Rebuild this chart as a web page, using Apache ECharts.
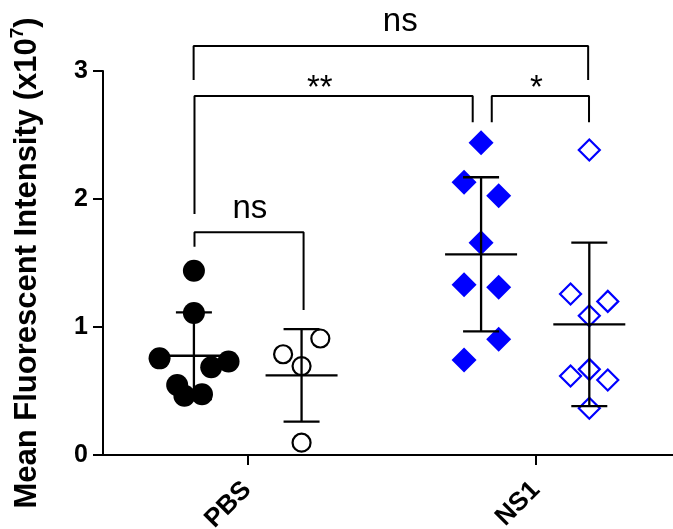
<!DOCTYPE html>
<html><head><meta charset="utf-8">
<script src="https://cdn.jsdelivr.net/npm/echarts@6/dist/echarts.min.js"></script>
<style>html,body{margin:0;padding:0;background:#fff}#c{width:673px;height:529px}</style>
</head><body><div id="c"></div>
<script>
// ---- data ----
const categories = ['PBS', 'NS1'];
const categoryX = [1, 2];
const yTicks = [0, 1, 2, 3];
// individual points [x (jittered within group), value x10^7]
const pbsFilled = [[0.815,1.44],[0.815,1.11],[0.696,0.755],[0.935,0.73],[0.875,0.685],[0.757,0.547],[0.782,0.463],[0.843,0.474]];
const pbsOpen   = [[1.253,0.91],[1.124,0.787],[1.188,0.695],[1.188,0.096]];
const ns1Filled = [[1.81,2.44],[1.751,2.13],[1.871,2.026],[1.81,1.659],[1.751,1.33],[1.871,1.31],[1.871,0.904],[1.751,0.742]];
const ns1Open   = [[2.185,2.383],[2.12,1.258],[2.249,1.20],[2.185,1.088],[2.12,0.617],[2.185,0.669],[2.249,0.586],[2.185,0.365]];
const groupCenters = [0.815, 1.188, 1.81, 2.185];
// significance brackets: [xLeft, xRight, yTop, yLeftEnd, yRightEnd]
const brackets = [
  [0.814, 2.181, 3.195, 2.93, 2.93],
  [0.817, 1.781, 2.805, 1.883, 2.6],
  [1.847, 2.184, 2.805, 2.6, 2.6],
  [0.817, 1.195, 1.74, 1.627, 1.133]
];
const sigLabels = ['ns', '**', '*', 'ns'];
const sigPos = [[1.530, 3.387], [1.251, 2.863], [2.002, 2.863], [1.009, 1.92]];

// ---- build ----
const FONT = 'Liberation Sans, Arial, Helvetica, sans-serif';
const groups = [pbsFilled, pbsOpen, ns1Filled, ns1Open];
function meanSd(arr) {
  const ys = arr.map(p => p[1]);
  const m = ys.reduce((a, b) => a + b, 0) / ys.length;
  const sd = Math.sqrt(ys.reduce((a, b) => a + (b - m) * (b - m), 0) / (ys.length - 1));
  return [m, sd];
}
const errData = groups.map((g, i) => { const [m, s] = meanSd(g); return [groupCenters[i], m, m - s, m + s]; });

const series = [];
series.push({ type: 'scatter', data: pbsFilled, symbol: 'circle', symbolSize: 22, itemStyle: { color: '#000', opacity: 1 }, z: 2 });
series.push({ type: 'scatter', data: pbsOpen, symbol: 'circle', symbolSize: 18, itemStyle: { color: 'rgba(0,0,0,0)', borderColor: '#000', borderWidth: 2.2, opacity: 1 }, z: 2 });
series.push({ type: 'scatter', data: ns1Filled, symbol: 'diamond', symbolSize: 25, itemStyle: { color: '#0000ff', opacity: 1 }, z: 2 });
series.push({ type: 'scatter', data: ns1Open, symbol: 'diamond', symbolSize: 21, itemStyle: { color: 'rgba(0,0,0,0)', borderColor: '#0000ff', borderWidth: 2.2, opacity: 1 }, z: 2 });
series.push({
  type: 'custom', data: errData, encode: { x: 0, y: [1, 2, 3] }, z: 5, silent: true,
  renderItem(params, api) {
    const x = api.value(0), m = api.value(1), lo = api.value(2), hi = api.value(3);
    const pm = api.coord([x, m]), pl = api.coord([x, lo]), ph = api.coord([x, hi]);
    const st = { stroke: '#000', lineWidth: 2.3 };
    return { type: 'group', children: [
      { type: 'line', shape: { x1: pl[0], y1: pl[1], x2: ph[0], y2: ph[1] }, style: st },
      { type: 'line', shape: { x1: pm[0] - 36, y1: pm[1], x2: pm[0] + 36, y2: pm[1] }, style: st },
      { type: 'line', shape: { x1: ph[0] - 18, y1: ph[1], x2: ph[0] + 18, y2: ph[1] }, style: st },
      { type: 'line', shape: { x1: pl[0] - 18, y1: pl[1], x2: pl[0] + 18, y2: pl[1] }, style: st }
    ]};
  }
});
brackets.forEach(b => {
  series.push({
    type: 'line', data: [[b[0], b[3]], [b[0], b[2]], [b[1], b[2]], [b[1], b[4]]],
    symbol: 'none', clip: false, silent: true, z: 4,
    lineStyle: { color: '#000', width: 2, opacity: 1 }
  });
});
series.push({
  type: 'scatter', data: sigPos, symbolSize: 0, clip: false, silent: true, z: 6,
  itemStyle: { opacity: 1 },
  label: { show: true, position: 'inside', formatter: p => sigLabels[p.dataIndex], fontSize: 33, color: '#000', opacity: 1, fontFamily: FONT }
});

const chart = echarts.init(document.getElementById('c'), null, { renderer: 'canvas' });
chart.setOption({
  animation: false,
  backgroundColor: '#fff',
  grid: { left: 103, right: 0, top: 71, bottom: 74, containLabel: false, outerBoundsMode: 'none' },
  xAxis: {
    type: 'value', min: 0.5, max: 2.475,
    axisLine: { show: true, onZero: false, lineStyle: { color: '#000', width: 2 } },
    axisTick: { show: true, customValues: categoryX, length: 10, lineStyle: { color: '#000', width: 2 } },
    axisLabel: { customValues: categoryX, formatter: v => categories[categoryX.indexOf(v)], rotate: 45, fontSize: 26, fontWeight: 'bold', color: '#000', fontFamily: FONT, margin: 31 },
    splitLine: { show: false }
  },
  yAxis: {
    type: 'value', min: yTicks[0], max: yTicks[yTicks.length - 1], interval: 1,
    axisLine: { show: true, onZero: false, lineStyle: { color: '#000', width: 2 } },
    axisTick: { show: true, length: 10, lineStyle: { color: '#000', width: 2 } },
    axisLabel: { fontSize: 25, fontWeight: 'bold', color: '#000', fontFamily: FONT, margin: 15 },
    splitLine: { show: false },
    name: '{a|Mean Fluorescent Intensity (x10}{s|7}{a|)}',
    nameLocation: 'middle', nameGap: 60, nameRotate: 90,
    nameTextStyle: {
      rich: {
        a: { fontSize: 31, fontWeight: 'bold', color: '#000', fontFamily: FONT, verticalAlign: 'bottom', lineHeight: 35 },
        s: { fontSize: 19, fontWeight: 'bold', color: '#000', fontFamily: FONT, verticalAlign: 'top', lineHeight: 35 }
      }
    }
  },
  series
});
</script></body></html>
